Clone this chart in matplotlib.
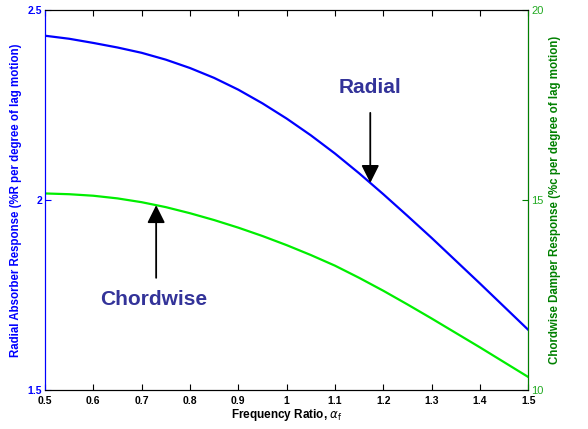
import matplotlib.pyplot as plt
import numpy as np

plt.rcParams['font.family'] = ['Liberation Sans', 'DejaVu Sans']

# frequency ratio and the two response curves
freq = [0.5, 0.55, 0.6, 0.65, 0.7, 0.75, 0.8, 0.85, 0.9, 0.95, 1.0,
        1.05, 1.1, 1.15, 1.2, 1.25, 1.3, 1.35, 1.4, 1.45, 1.5]
radial = [2.432, 2.424, 2.413, 2.401, 2.387, 2.369, 2.347, 2.321, 2.290, 2.254, 2.214,
          2.170, 2.122, 2.070, 2.015, 1.958, 1.900, 1.840, 1.780, 1.719, 1.658]
chordwise = [15.17, 15.15, 15.11, 15.04, 14.94, 14.81, 14.65, 14.47, 14.27, 14.05, 13.81,
             13.55, 13.27, 12.95, 12.61, 12.25, 11.88, 11.50, 11.12, 10.73, 10.34]

x_ticks = [0.5, 0.6, 0.7, 0.8, 0.9, 1, 1.1, 1.2, 1.3, 1.4, 1.5]
x_labels = ['0.5', '0.6', '0.7', '0.8', '0.9', '1', '1.1', '1.2', '1.3', '1.4', '1.5']
left_ticks = [1.5, 2, 2.5]
right_ticks = [10, 15, 20]

blue = '#0000ff'
green = '#00ee00'
dgreen = '#008000'
label_col = '#333399'

fig = plt.figure(figsize=(5.88, 4.29), dpi=100)
ax = fig.add_axes([0.0765, 0.091, 0.822, 0.886])
ax2 = ax.twinx()

ax.plot(freq, radial, color=blue, lw=1.6)
ax2.plot(freq, chordwise, color=green, lw=1.6)

ax.set_xlim(0.5, 1.5)
ax.set_ylim(1.5, 2.5)
ax2.set_ylim(10, 20)

ax.set_xticks(x_ticks)
ax.set_xticklabels(x_labels, fontsize=7.5, fontweight='bold')
ax.set_yticks(left_ticks)
ax.set_yticklabels(['1.5', '2', '2.5'], fontsize=7.5, fontweight='bold', color=blue)
ax2.set_yticks(right_ticks)
ax2.set_yticklabels(['10', '15', '20'], fontsize=8, color='#22aa22')

ax.tick_params(axis='x', direction='in', top=True, length=4, pad=4)
ax.tick_params(axis='y', direction='in', length=4, pad=2, color=blue)
ax2.tick_params(axis='y', direction='in', length=4, pad=2, color=dgreen)

ax.spines['left'].set_color(blue)
ax2.spines['left'].set_color(blue)
ax2.spines['right'].set_color(dgreen)

ax.set_xlabel(r'Frequency Ratio, $\alpha_{\mathrm{f}}$', fontsize=8.5, fontweight='bold', labelpad=1)
ax.set_ylabel('Radial Absorber Response (%R per degree of lag motion)',
              fontsize=8.3, fontweight='bold', color=blue, labelpad=4)
ax2.set_ylabel('Chordwise Damper Response (%c per degree of lag motion)',
               fontsize=8.3, fontweight='bold', color=dgreen, labelpad=4)

# callouts
arrow = dict(arrowstyle='-|>,head_length=0.9,head_width=0.45', color='black',
             lw=1.3, mutation_scale=12, shrinkA=0, shrinkB=0)
ax.annotate('', xy=(1.173, np.interp(1.173, freq, radial)), xytext=(1.173, 2.229),
            arrowprops=arrow)
ax.text(1.173, 2.295, 'Radial', ha='center', va='center', fontsize=15,
        fontweight='bold', color=label_col)

ax2.annotate('', xy=(0.73, np.interp(0.73, freq, chordwise)), xytext=(0.73, 12.95),
             arrowprops=arrow)
ax2.text(0.725, 12.37, 'Chordwise', ha='center', va='center', fontsize=15,
         fontweight='bold', color=label_col)

fig.savefig('out.png', dpi=100)
